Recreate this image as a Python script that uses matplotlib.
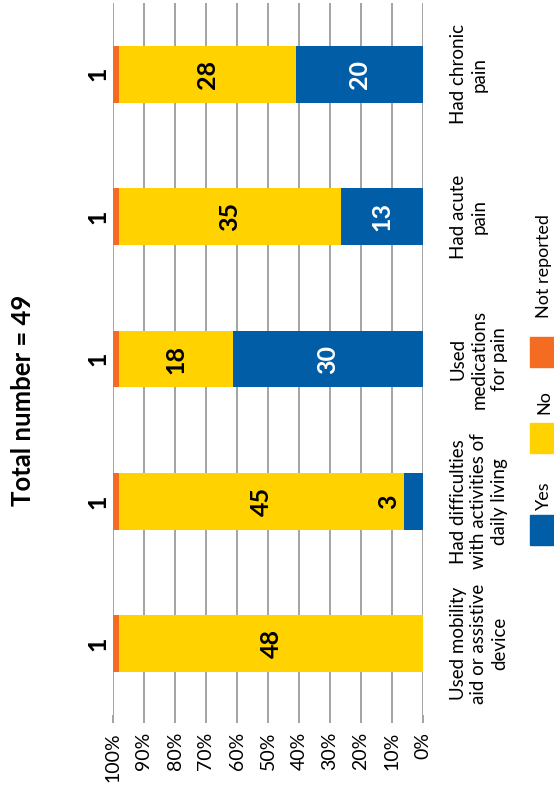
import matplotlib
matplotlib.use("Agg")
import matplotlib.pyplot as plt
import matplotlib.transforms as mtransforms
from matplotlib.patches import Rectangle

# ---- data ----
categories = [
    "Used mobility\naid or assistive\ndevice",
    "Had difficulties\nwith activities of\ndaily living",
    "Used\nmedications\nfor pain",
    "Had acute\npain",
    "Had chronic\npain",
]
yes = [0, 3, 30, 13, 20]
no = [48, 45, 18, 35, 28]
not_reported = [1, 1, 1, 1, 1]
total_n = 49
series_names = ["Yes", "No", "Not reported"]
tick_values = [0, 10, 20, 30, 40, 50, 60, 70, 80, 90, 100]
tick_labels = [f"{t}%" for t in tick_values]
title = "Total number = 49"

# ---- style ----
colors = ["#005DA6", "#FFD200", "#F36C21"]
label_colors = ["white", "black", "black"]
grid_color = "#8a8a8a"
plt.rcParams["font.family"] = ["Lato", "DejaVu Sans"]

W, H = 554, 795
fig = plt.figure(figsize=(W / 100, H / 100), dpi=100)
ax = fig.add_axes([113 / W, 1 - 715 / H, 310 / W, 712 / H])

series = [yes, no, not_reported]
ypos = list(range(len(categories)))
left = [0.0] * len(categories)
px_per_unit = 310.0
for s_idx, vals in enumerate(series):
    fr = [v / total_n for v in vals]
    ax.barh(ypos, fr, left=left, height=0.4, color=colors[s_idx], zorder=2)
    for i, v in enumerate(vals):
        if v <= 0:
            continue
        w = fr[i]
        if w * px_per_unit > 25:
            ax.text(left[i] + w / 2, ypos[i], str(v), rotation=90, ha="center",
                    va="center", fontsize=18, fontweight="bold",
                    color=label_colors[s_idx], zorder=3)
        else:
            ax.annotate(str(v), xy=(left[i] + w, ypos[i]), xytext=(-15 * 0.72, 0),
                        textcoords="offset points", rotation=90, ha="center",
                        va="center", fontsize=18, fontweight="bold", color="black",
                        annotation_clip=False, zorder=3)
    left = [l + f for l, f in zip(left, fr)]

ax.set_xlim(1, 0)
ax.set_ylim(-0.5, len(categories) - 0.5)
ax.set_xticks([t / 100 for t in tick_values])
ax.set_xticklabels(tick_labels, rotation=90, fontsize=14)
ax.set_yticks([])
ax.grid(axis="x", color=grid_color, linewidth=1.1, zorder=0)
ax.set_axisbelow(True)
for sp in ax.spines.values():
    sp.set_visible(False)
ax.tick_params(axis="x", length=5.8, width=1.1, color=grid_color, pad=6.5)

# category labels on the right
trans = mtransforms.blended_transform_factory(ax.transAxes, ax.transData)
for i, c in enumerate(categories):
    ax.text(1.087, ypos[i], c, transform=trans, rotation=90, ha="left", va="center",
            multialignment="center", fontsize=13.5, linespacing=1.25)

# title
fig.text(23 / W, 0.497, title, rotation=90, ha="center", va="center",
         fontsize=18.5, fontweight="bold")

# legend (manual, rotated)
patch_top_px = [515, 423, 337]
text_center_px = [495.5, 402.5, 266.5]
for k, name in enumerate(series_names):
    y0 = patch_top_px[k]
    fig.patches.append(Rectangle((530 / W, 1 - (y0 + 30) / H), 30 / W, 30 / H,
                                 transform=fig.transFigure, color=colors[k]))
    fig.text(544 / W, 1 - text_center_px[k] / H, name, rotation=90, ha="center",
             va="center", fontsize=13)

fig.savefig("out.png", dpi=100)
